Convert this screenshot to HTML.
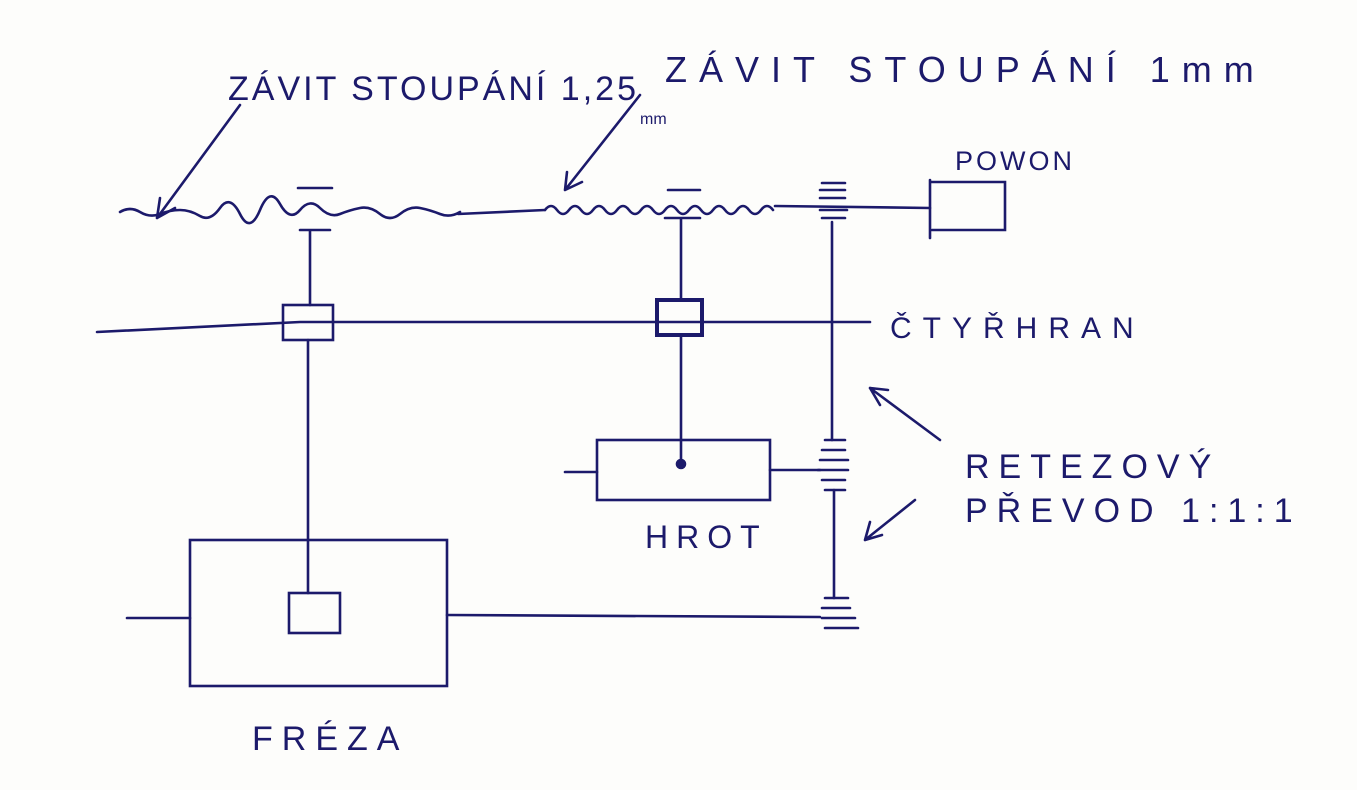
<!DOCTYPE html>
<html><head><meta charset="utf-8"><style>
html,body{margin:0;padding:0;background:#fdfdfb;}
svg{display:block}
text{font-family:"Liberation Sans",sans-serif;fill:#1c1a6b;}
</style></head><body>
<svg width="1357" height="790" viewBox="0 0 1357 790" xmlns="http://www.w3.org/2000/svg">
<g stroke="#1c1a6b" stroke-width="2.6" fill="none" stroke-linecap="round">
<path d="M120 212 q10 -6 20 0 t20 2 t20 -4 t20 6 t20 -8 t20 6 t20 -4 t20 -6 t20 6 t20 -2 t20 6 t20 -6 t20 6 t20 0 t20 -6 t20 6 t20 -2"/>
<path d="M458 214 L545 210"/>
<path d="M545 210 q6 -8 12 0 t12 0 t12 0 t12 0 t12 0 t12 0 t12 0 t12 0 t12 0 t12 0 t12 0 t12 0 t12 0 t12 0 t12 0 t12 0 t12 0 t12 0 t12 0"/>
<path d="M775 206 L930 208"/>
<path d="M930 180 L930 238 M930 182 L1005 182 L1005 230 L932 230"/>
<path d="M240 105 L157 218 M157 218 L160 198 M157 218 L175 208"/>
<path d="M640 95 L565 190 M565 190 L567 172 M565 190 L582 182"/>
<path d="M298 188 L332 188 M300 230 L330 230 M310 230 L310 305"/>
<rect x="283" y="305" width="50" height="35"/>
<path d="M308 340 L308 593"/>
<rect x="289" y="593" width="51" height="40"/>
<rect x="190" y="540" width="257" height="146"/>
<path d="M127 618 L190 618 M447 615 L820 617"/>
<path d="M668 190 L700 190 M665 218 L700 218 M681 218 L681 300"/>
<rect x="657" y="300" width="45" height="35" stroke-width="4"/>
<path d="M681 335 L681 462"/>
<circle cx="681" cy="464" r="4" fill="#1c1a6b"/>
<rect x="597" y="440" width="173" height="60"/>
<path d="M565 472 L597 472 M770 470 L820 470"/>
<path d="M832 222 L832 440 M834 490 L834 598"/>
<path d="M822 183 L845 183 M820 190 L845 190 M820 198 L845 198 M820 210 L847 210 M822 218 L845 218"/>
<path d="M825 440 L845 440 M822 450 L845 450 M820 460 L848 460 M818 470 L848 470 M822 480 L845 480 M825 490 L845 490"/>
<path d="M825 598 L848 598 M822 608 L850 608 M822 618 L855 618 M825 628 L858 628"/>
<path d="M97 332 L300 322 L870 322"/>
<path d="M940 440 L870 388 M870 388 L880 405 M870 388 L888 390"/>
<path d="M915 500 L865 540 M865 540 L870 522 M865 540 L882 535"/>
</g>
<text x="228" y="100" font-size="34" letter-spacing="3">ZÁVIT STOUPÁNÍ 1,25</text>
<text x="640" y="124" font-size="16">mm</text>
<text x="665" y="82" font-size="36" letter-spacing="12">ZÁVIT STOUPÁNÍ 1mm</text>
<text x="955" y="170" font-size="27" letter-spacing="3">POWON</text>
<text x="890" y="338" font-size="30" letter-spacing="11">ČTYŘHRAN</text>
<text x="965" y="478" font-size="34" letter-spacing="9">RETEZOVÝ</text>
<text x="965" y="522" font-size="34" letter-spacing="9">PŘEVOD 1:1:1</text>
<text x="645" y="548" font-size="32" letter-spacing="8">HROT</text>
<text x="252" y="750" font-size="34" letter-spacing="9">FRÉZA</text>
</svg>
</body></html>
